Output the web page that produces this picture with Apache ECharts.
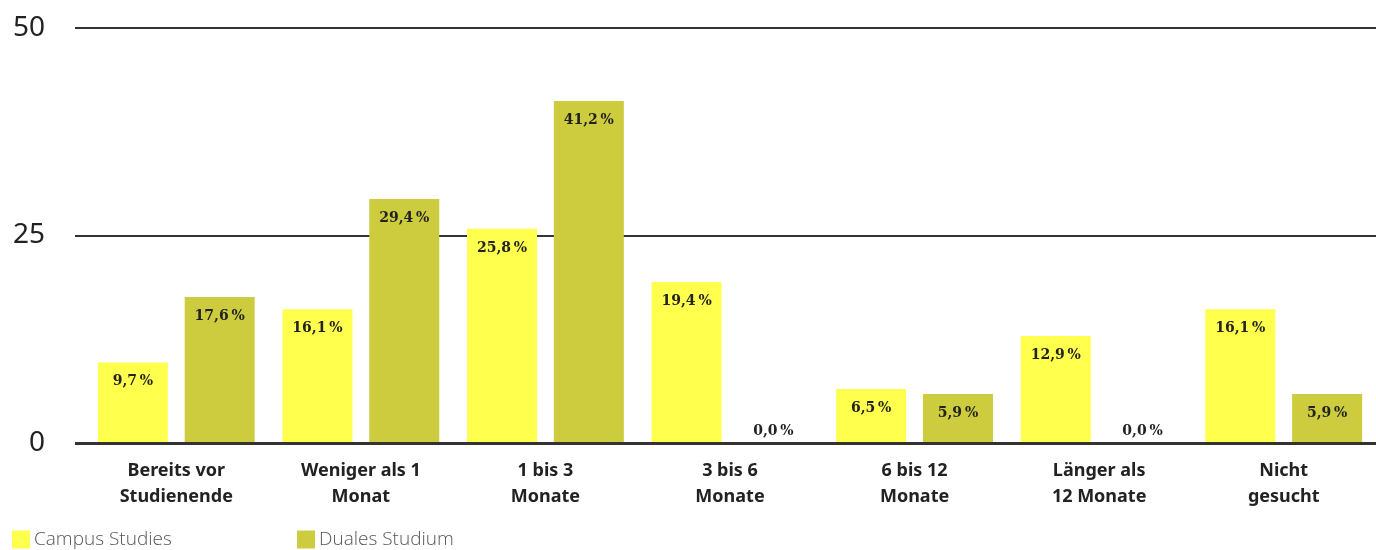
<!DOCTYPE html>
<html><head><meta charset="utf-8">
<script src="https://cdn.jsdelivr.net/npm/echarts@6/dist/echarts.min.js"></script>
<style>html,body{margin:0;padding:0;background:#fff}#c{width:1376px;height:550px}</style>
</head><body><div id="c"></div>
<script>
const categories = ['Bereits vor\nStudienende','Weniger als 1\nMonat','1 bis 3\nMonate','3 bis 6\nMonate','6 bis 12\nMonate','Länger als\n12 Monate','Nicht\ngesucht'];
const campusValues = [9.7, 16.1, 25.8, 19.4, 6.5, 12.9, 16.1];
const dualValues = [17.6, 29.4, 41.2, 0.0, 5.9, 0.0, 5.9];
const seriesNames = ['Campus Studies', 'Duales Studium'];
const yTicks = [0, 25, 50];

const fmt = v => v.toFixed(1).replace('.', ',') + '\u2009%';
const labelBase = {show:true, position:'insideTop', distance:12, fontFamily:'DejaVu Serif', fontWeight:'bold', fontSize:14, color:'#222', formatter:p=>fmt(p.value)};
const mk = arr => arr.map(v => v === 0 ? {value:v, label:{position:'top', distance:5}} : v);

const chart = echarts.init(document.getElementById('c'));
chart.setOption({
  animation:false,
  grid:[{left:75,right:0,top:28,bottom:107},{left:84,width:1295,top:28,bottom:107}],
  xAxis:[
    {gridIndex:0,type:'category',data:categories,show:false},
    {gridIndex:1,type:'category',data:categories,axisTick:{show:false},axisLine:{show:false},
     axisLabel:{fontFamily:'Noto Sans',fontWeight:'bold',fontSize:18,color:'#222',lineHeight:26,margin:15}}
  ],
  yAxis:[
    {gridIndex:0,type:'value',min:yTicks[0],max:yTicks[2],interval:25,
     axisLine:{show:false},axisTick:{show:false},
     axisLabel:{fontFamily:'Noto Sans',fontSize:28,color:'#222',margin:30},
     splitLine:{lineStyle:{color:'#333',width:2}}},
    {gridIndex:1,type:'value',min:0,max:50,interval:25,show:false,splitLine:{show:false}}
  ],
  legend:[
    {left:12,top:530,padding:0,itemWidth:18,itemHeight:18,itemGap:4,icon:'rect',data:[seriesNames[0]],
     textStyle:{fontFamily:'Open Sans',fontWeight:300,fontSize:19,color:'#555',padding:[3,0,0,-1]}},
    {left:297,top:530,padding:0,itemWidth:18,itemHeight:18,itemGap:4,icon:'rect',data:[seriesNames[1]],
     textStyle:{fontFamily:'Open Sans',fontWeight:300,fontSize:19,color:'#555',padding:[3,0,0,-1]}}
  ],
  series:[
    {name:seriesNames[0],type:'bar',xAxisIndex:1,yAxisIndex:1,data:mk(campusValues),barWidth:70,barGap:'24%',
     itemStyle:{color:'#ffff4d'},label:labelBase},
    {name:seriesNames[1],type:'bar',xAxisIndex:1,yAxisIndex:1,data:mk(dualValues),barWidth:70,barGap:'24%',
     itemStyle:{color:'#cccc3e'},label:labelBase},
    {type:'line',xAxisIndex:0,yAxisIndex:0,data:[],
     markLine:{silent:true,symbol:'none',label:{show:false},lineStyle:{color:'#333',width:3,type:'solid'},data:[{yAxis:0}]}}
  ]
});
</script></body></html>
